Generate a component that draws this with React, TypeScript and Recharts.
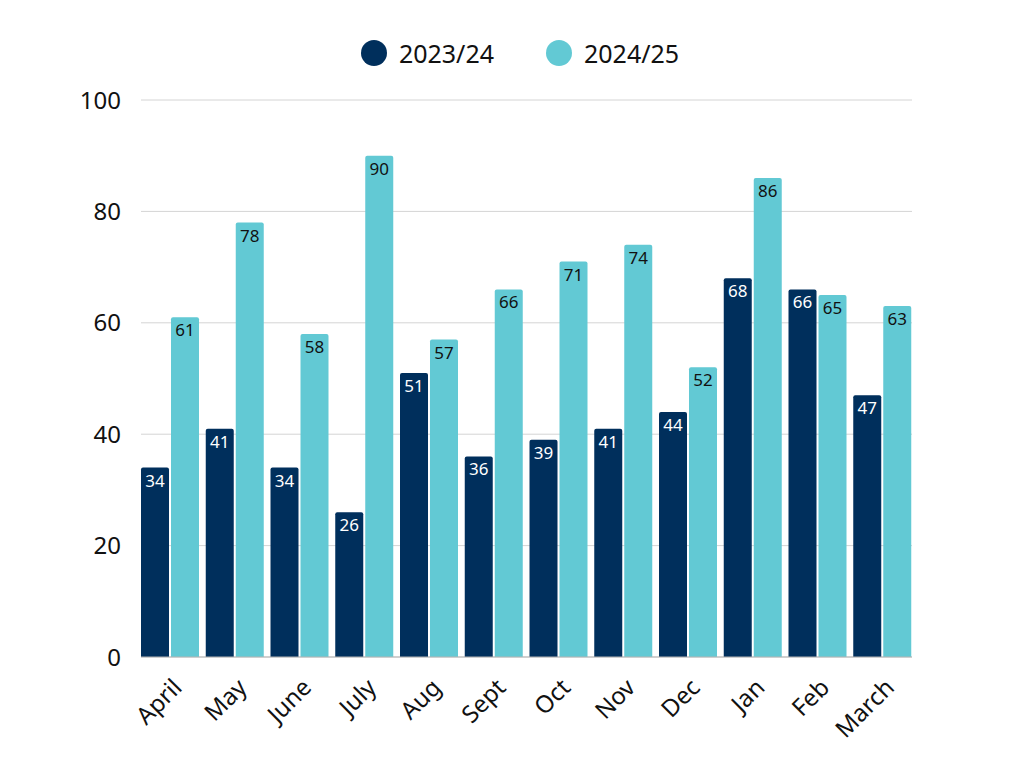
import React from "react";
import {
  BarChart,
  Bar,
  XAxis,
  YAxis,
  CartesianGrid,
  Legend,
  LabelList
} from "recharts";

const months = ["April", "May", "June", "July", "Aug", "Sept", "Oct", "Nov", "Dec", "Jan", "Feb", "March"];
const prevYear = [34, 41, 34, 26, 51, 36, 39, 41, 44, 68, 66, 47];
const thisYear = [61, 78, 58, 90, 57, 66, 71, 74, 52, 86, 65, 63];
const yTicks = [0, 20, 40, 60, 80, 100];

const DARK = "#002f5c";
const TEAL = "#62c9d4";
const FONT = "'Noto Sans', sans-serif";

const data = months.map((m, i) => ({ month: m, prev: prevYear[i], curr: thisYear[i] }));

// legend drawn by hand so spacing matches
const ChartLegend = () => (
  <div style={{ display: "flex", justifyContent: "center", alignItems: "center", height: 46, fontFamily: FONT, fontSize: 25, color: "#111" }}>
    <span style={{ display: "inline-flex", alignItems: "center", marginRight: 52 }}>
      <span style={{ width: 26, height: 26, borderRadius: 13, background: DARK, marginRight: 12 }} />
      2023/24
    </span>
    <span style={{ display: "inline-flex", alignItems: "center" }}>
      <span style={{ width: 26, height: 26, borderRadius: 13, background: TEAL, marginRight: 12 }} />
      2024/25
    </span>
  </div>
);

const MonthTick = ({ x, y, payload }: any) => (
  <text
    x={0}
    y={0}
    transform={`translate(${x + 13},${y + 24}) rotate(-45)`}
    textAnchor="end"
    fontFamily={FONT}
    fontSize={24}
    fill="#111"
  >
    {payload.value}
  </text>
);

const makeLabel = (color: string) => (props: any) => {
  const { x, y, width, value } = props;
  return (
    <text x={x + width / 2} y={y + 19} textAnchor="middle" fontFamily={FONT} fontSize={17} fill={color}>
      {value}
    </text>
  );
};

export default function App() {
  return (
    <div style={{ position: "absolute", left: 0, top: 0, width: 1024, height: 768, background: "#fff" }}>
      <BarChart
        width={1024}
        height={768}
        data={data}
        margin={{ top: 54, right: 112, bottom: 21, left: 0 }}
        barGap={2}
        barSize={28}
      >
        <Legend
          verticalAlign="top"
          align="center"
          content={<ChartLegend />}
          wrapperStyle={{ top: 30, left: 8, width: 1024 }}
        />
        <CartesianGrid vertical={false} stroke="#d4d4d4" />
        <XAxis
          dataKey="month"
          tick={<MonthTick />}
          tickLine={false}
          axisLine={{ stroke: "#b5b5b5" }}
          interval={0}
          height={90}
          padding={{ left: -3, right: -3 }}
        />
        <YAxis
          width={141}
          domain={[0, 100]}
          ticks={yTicks}
          tickLine={false}
          axisLine={false}
          tick={{ fontFamily: FONT, fontSize: 24, fill: "#111" }}
          tickMargin={14}
        />
        <Bar dataKey="prev" fill={DARK} radius={[2, 2, 0, 0]} isAnimationActive={false}>
          <LabelList dataKey="prev" content={makeLabel("#ffffff")} />
        </Bar>
        <Bar dataKey="curr" fill={TEAL} radius={[2, 2, 0, 0]} isAnimationActive={false}>
          <LabelList dataKey="curr" content={makeLabel("#111111")} />
        </Bar>
      </BarChart>
    </div>
  );
}
